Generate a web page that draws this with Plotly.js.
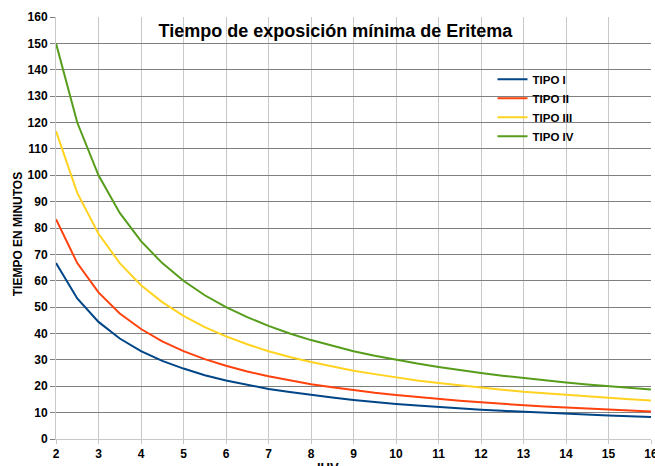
<!DOCTYPE html>
<html>
<head>
<meta charset="utf-8">
<script src="https://cdn.plot.ly/plotly-3.0.1.min.js"></script>
<style>html,body{margin:0;padding:0;background:#fff;}#chart{width:655px;height:466px;}</style>
</head>
<body>
<div id="chart"></div>
<script>
const uv = [2,2.5,3,3.5,4,4.5,5,5.5,6,6.5,7,7.5,8,8.5,9,9.5,10,10.5,11,11.5,12,12.5,13,13.5,14,14.5,15,15.5,16];
const tipoI   = [66.7,53.3,44.4,38.1,33.3,29.6,26.7,24.2,22.2,20.5,19.0,17.8,16.7,15.7,14.8,14.0,13.3,12.7,12.1,11.6,11.1,10.7,10.3,9.9,9.5,9.2,8.9,8.6,8.3];
const tipoII  = [83.3,66.7,55.6,47.6,41.7,37.0,33.3,30.3,27.8,25.6,23.8,22.2,20.8,19.6,18.5,17.5,16.7,15.9,15.2,14.5,13.9,13.3,12.8,12.3,11.9,11.5,11.1,10.8,10.4];
const tipoIII = [116.7,93.3,77.8,66.7,58.3,51.9,46.7,42.4,38.9,35.9,33.3,31.1,29.2,27.5,25.9,24.6,23.3,22.2,21.2,20.3,19.4,18.7,17.9,17.3,16.7,16.1,15.6,15.1,14.6];
const tipoIV  = [150,120,100,85.7,75,66.7,60,54.5,50,46.2,42.9,40,37.5,35.3,33.3,31.6,30,28.6,27.3,26.1,25,24,23.1,22.2,21.4,20.7,20,19.4,18.8];
const seriesNames = ["TIPO I","TIPO II","TIPO III","TIPO IV"];
const seriesData = [tipoI, tipoII, tipoIII, tipoIV];
const colors = ["#004586","#ff420e","#ffd320","#579d1c"];
const chartTitle = "Tiempo de exposición mínima de Eritema";
const xTitle = "IUV";
const yTitle = "TIEMPO EN MINUTOS";

const traces = seriesData.map((d,i)=>({
  x: uv, y: d, name: seriesNames[i], type: 'scatter', mode: 'lines',
  line: {color: colors[i], width: 2}
}));

const fam = '"Liberation Sans", Arial, sans-serif';
const layout = {
  width: 655, height: 466,
  margin: {l: 56, r: 4, t: 17, b: 27},
  paper_bgcolor: '#fff', plot_bgcolor: '#fff',
  showlegend: true,
  font: {family: fam, color: '#000'},
  title: {text: '<b>' + chartTitle + '</b>', font: {size: 18, family: fam, color:'#000'},
          x: 0.512, xanchor: 'center', y: 0.935, yanchor: 'middle'},
  xaxis: {
    range: [2,16], dtick: 1, tick0: 2,
    showgrid: true, gridcolor: '#c8c8c8', gridwidth: 1,
    zeroline: false, showline: true, linecolor: '#c8c8c8',
    ticks: 'outside', ticklen: 4, tickcolor: '#c8c8c8',
    ticklabeloverflow: 'allow',
    tickfont: {size: 12, family: fam, color: '#000', weight: 'bold'},
    fixedrange: true
  },
  yaxis: {
    range: [0,160], dtick: 10,
    showgrid: true, gridcolor: '#808080', gridwidth: 1,
    zeroline: false, showline: true, linecolor: '#c8c8c8',
    ticks: 'outside', ticklen: 5, tickcolor: '#808080',
    tickfont: {size: 12, family: fam, color: '#000', weight: 'bold'},
    fixedrange: true
  },
  annotations: [
    {text: '<b>' + xTitle + '</b>', xref: 'paper', yref: 'paper', x: 0.457, y: -0.045,
     xanchor: 'center', yanchor: 'top', showarrow: false, font: {size: 13, family: fam, color: '#000'}},
    {text: '<b>' + yTitle + '</b>', xref: 'paper', yref: 'paper', x: -0.064, y: 0.485,
     xanchor: 'center', yanchor: 'middle', textangle: -90, showarrow: false, font: {size: 12, family: fam, color: '#000'}}
  ],
  legend: {
    x: 0.7336, y: 0.887, xanchor: 'left', yanchor: 'top',
    bgcolor: 'rgba(0,0,0,0)', borderwidth: 0,
    font: {size: 11.5, family: fam, color: '#000', weight: 'bold'},
    tracegroupgap: 0, itemwidth: 30
  }
};
Plotly.newPlot('chart', traces, layout, {displayModeBar: false, staticPlot: true});
</script>
</body>
</html>
